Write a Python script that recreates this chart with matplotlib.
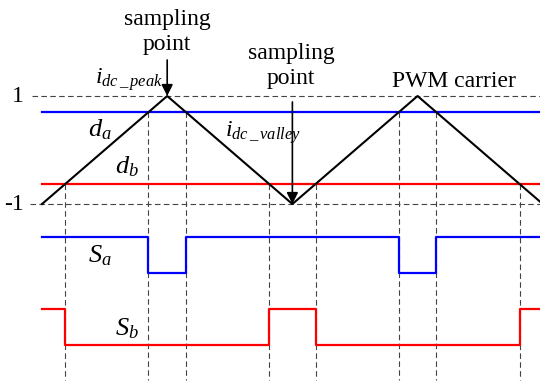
import matplotlib
matplotlib.use('Agg')
import matplotlib.pyplot as plt

plt.rcParams['font.family'] = ['Liberation Serif', 'DejaVu Serif']
plt.rcParams['mathtext.fontset'] = 'custom'
plt.rcParams['mathtext.rm'] = 'Liberation Serif'
plt.rcParams['mathtext.it'] = 'Liberation Serif:italic'

# PWM carrier (triangle), time in half-periods
carrier_t = [0, 1, 2, 3, 4]
carrier_v = [-1, 1, -1, 1, -1]

# duty references
d_a = 0.70
d_b = -0.63

# switching signals: switch instants and states after each instant
sa_t = [0, 0.85, 1.15, 2.85, 3.15]
sa_state = [1, 0, 1, 0, 1]
sb_t = [0, 0.185, 1.815, 2.185, 3.815]
sb_state = [1, 0, 1, 0, 1]

t_end = 3.978
sa_base, sb_base, step_h = -2.278, -3.611, 0.667
bottom = -4.26

fig = plt.figure(figsize=(5.4, 3.86), dpi=100)
ax = fig.add_axes([0, 0, 1, 1])
ax.set_xlim(-0.3355, t_end)
ax.set_ylim(-4.37, 2.778)
ax.axis('off')

dash = dict(color='#444444', lw=0.8, ls=(0, (5, 3)))

# +1 / -1 reference levels
ax.plot([-0.08, t_end], [1, 1], **dash)
ax.plot([-0.096, t_end], [-1, -1], **dash)
ax.text(-0.144, 1, '1', ha='right', va='center', fontsize=17)
ax.text(-0.144, -1, '-1', ha='right', va='center', fontsize=17)

# vertical dashed lines at the crossings
for t in sa_t[1:]:
    ax.plot([t, t], [d_a, bottom], **dash)
for t in sb_t[1:]:
    ax.plot([t, t], [d_b, bottom], **dash)

ax.plot([0, t_end], [d_a, d_a], color='#0000ff', lw=1.6)
ax.plot([0, t_end], [d_b, d_b], color='#ff0000', lw=1.6)
ax.plot(carrier_t, carrier_v, color='black', lw=1.5)

ax.step(sa_t + [t_end], [sa_base + s * step_h for s in sa_state + sa_state[-1:]],
        where='post', color='#0000ff', lw=1.6)
ax.step(sb_t + [t_end], [sb_base + s * step_h for s in sb_state + sb_state[-1:]],
        where='post', color='#ff0000', lw=1.6)

# sampling arrows
arr = dict(arrowstyle='-|>', color='black', lw=1.2, mutation_scale=17, shrinkA=0, shrinkB=0)
ax.annotate('', xy=(1, 1), xytext=(1, 1.667), arrowprops=arr)
ax.annotate('', xy=(2, -1), xytext=(2, 0.889), arrowprops=arr)

ax.text(1, 2.19, 'sampling\npoint', ha='center', va='center', fontsize=17, linespacing=1.25)
ax.text(1.99, 1.55, 'sampling\npoint', ha='center', va='center', fontsize=17, linespacing=1.25)
ax.text(3.29, 1.26, 'PWM carrier', ha='center', va='center', fontsize=17)

ax.text(0.423, 1.222, r'$i_{dc\,\_\,peak}$', ha='left', va='baseline', fontsize=17)
ax.text(1.46, 0.24, r'$i_{dc\,\_\,valley}$', ha='left', va='baseline', fontsize=17)
ax.text(0.367, 0.26, r'$d_a$', ha='left', va='baseline', fontsize=19)
ax.text(0.583, -0.426, r'$d_b$', ha='left', va='baseline', fontsize=19)
ax.text(0.367, -2.09, r'$S_a$', ha='left', va='baseline', fontsize=19)
ax.text(0.583, -3.43, r'$S_b$', ha='left', va='baseline', fontsize=19)

plt.savefig('out.png', dpi=100)
